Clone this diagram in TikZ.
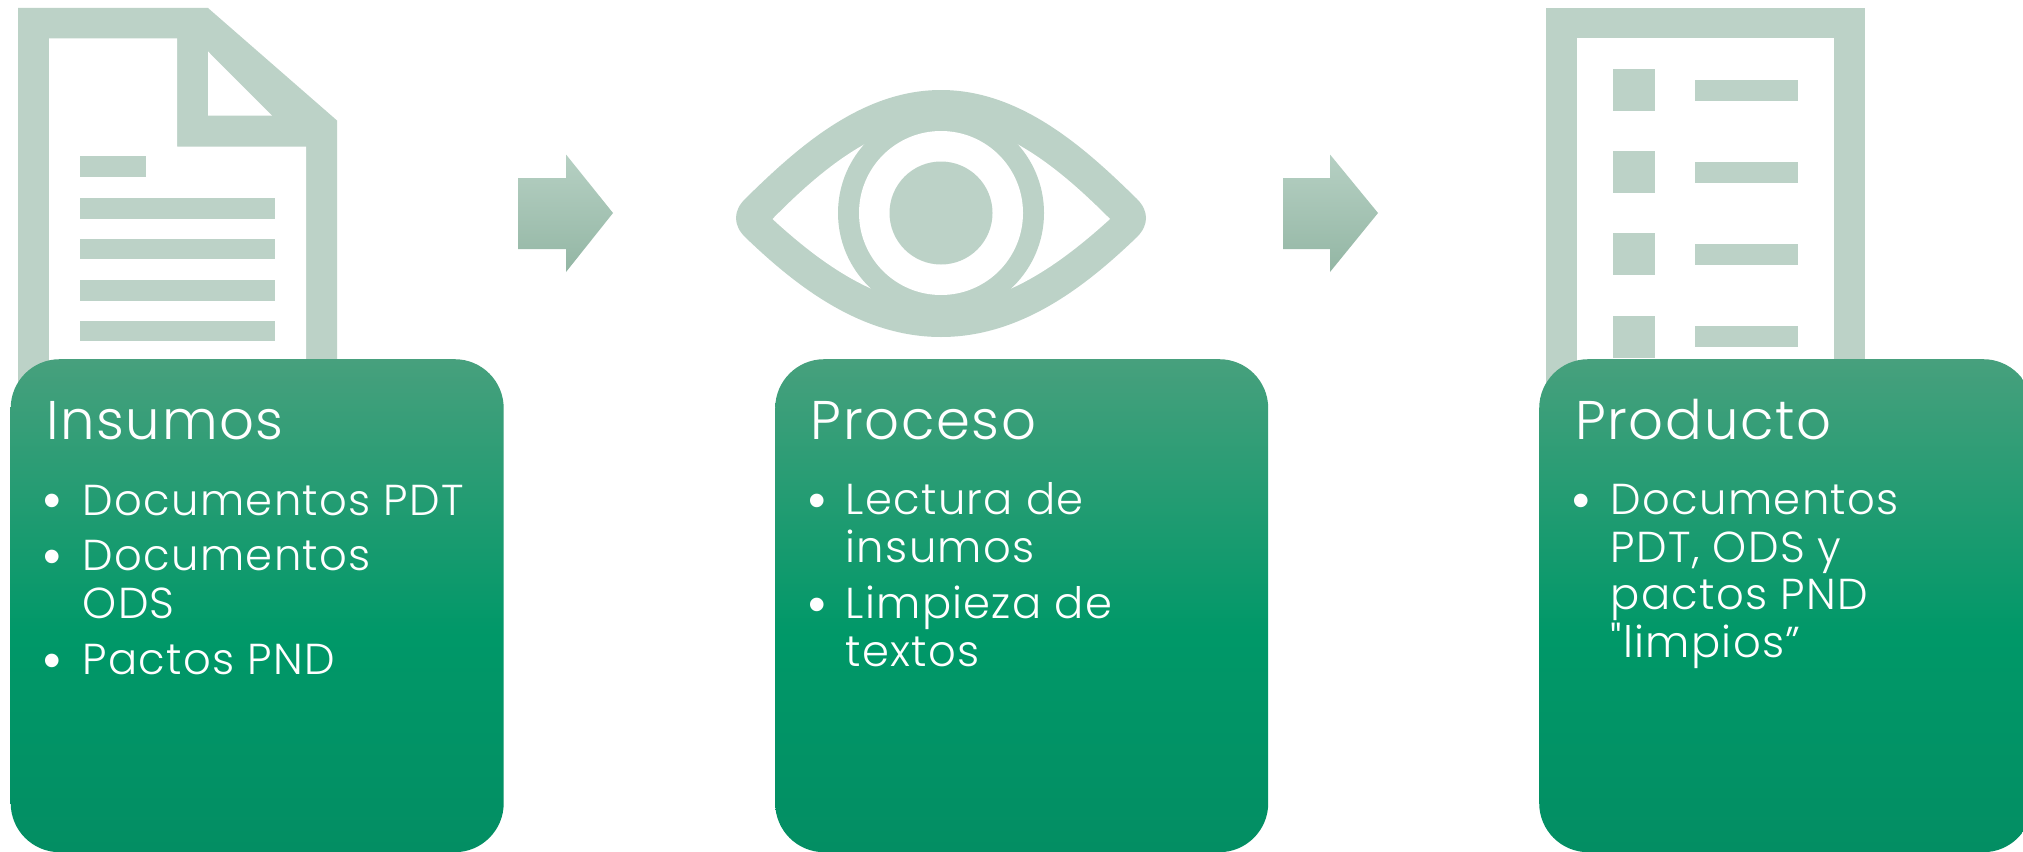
\documentclass[tikz,border=0pt]{standalone}
\usepackage{fontspec}
\newfontfamily\cardfont{Poppins Light}[LetterSpace=3]
\newfontfamily\dotfont{Liberation Sans}
\usetikzlibrary{positioning}

\definecolor{iconcol}{HTML}{BCD2C7}
\definecolor{cardtop}{HTML}{47A07D}
\definecolor{cardmid}{HTML}{009868}
\definecolor{cardbot}{HTML}{038E63}
\definecolor{arrowtop}{HTML}{B6D0C3}
\definecolor{arrowmid}{HTML}{A8C8B7}
\definecolor{arrowbot}{HTML}{93B6A4}
\pgfdeclareverticalshading{cardshade}{100bp}{color(0bp)=(cardbot); color(25bp)=(cardbot); color(47bp)=(cardmid); color(75bp)=(cardtop); color(100bp)=(cardtop)}

\tikzstyle{card} = [shading=cardshade, rounded corners=49pt, minimum width=493pt, minimum height=493pt, anchor=north west, inner sep=0pt]
\tikzstyle{cardtitle} = [anchor=base west, inner sep=0pt, text=white, font=\cardfont\fontsize{54.5}{60}\selectfont]
\tikzstyle{item} = [anchor=base west, inner sep=0pt, text=white, font=\cardfont\fontsize{43.3}{48}\selectfont]
\tikzstyle{itemdot} = [anchor=base west, inner sep=0pt, text=white, font=\dotfont\fontsize{50}{50}\selectfont]
\tikzstyle{stepfill} = [top color=arrowtop, middle color=arrowmid, bottom color=arrowbot]

\begin{document}
\begin{tikzpicture}[x=1pt,y=-1pt]
                \path[fill=white,use as bounding box] (0,0) rectangle (2023,851);
                % draw document icon
                \fill[iconcol] (18,8) -- (208,8) -- (337,120.5) -- (337,400) -- (18,400) -- cycle;
                \fill[white] (49,38.5) -- (177,38.5) -- (177,146.5) -- (306,146.5) -- (306,400) -- (49,400) -- cycle;
                \fill[white] (208,51.5) -- (272,115.6) -- (208,115.6) -- cycle;
                \fill[iconcol] (79.5,156) rectangle (146.4,177.4);
                \fill[iconcol] (79.5,198) rectangle (275,218.7);
                \fill[iconcol] (79.5,238.7) rectangle (275,259.4);
                \fill[iconcol] (79.5,280) rectangle (275,300.6);
                \fill[iconcol] (79.5,320.7) rectangle (275,341.3);
                % draw eye icon
                \fill[iconcol] (941,90) .. controls (860,90) and (795,150) .. (745,199)
                    .. controls (733,211) and (733,225) .. (745,237)
                    .. controls (795,285) and (860,337) .. (941,337)
                    .. controls (1022,337) and (1087,285) .. (1137,237)
                    .. controls (1149,225) and (1149,211) .. (1137,199)
                    .. controls (1087,150) and (1022,90) .. (941,90) -- cycle;
                \fill[white] (772.5,219) .. controls (815,176) and (875,122) .. (941,122)
                    .. controls (1007,122) and (1067,176) .. (1110,219)
                    .. controls (1067,258) and (1007,305) .. (941,305)
                    .. controls (875,305) and (815,258) .. (772.5,219) -- cycle;
                \fill[iconcol] (941,213) circle (103);
                \fill[white] (941,213) circle (82);
                \fill[iconcol] (941,213) circle (51.5);
                % draw list icon
                \fill[iconcol] (1546,8) rectangle (1865,400);
                \fill[white] (1577,38.5) rectangle (1834,400);
                \fill[iconcol] (1613,69) rectangle (1655,111);
                \fill[iconcol] (1613,151) rectangle (1655,193);
                \fill[iconcol] (1613,233) rectangle (1655,275);
                \fill[iconcol] (1613,316) rectangle (1655,358);
                \fill[iconcol] (1695,80) rectangle (1798,101);
                \fill[iconcol] (1695,162) rectangle (1798,183);
                \fill[iconcol] (1695,244) rectangle (1798,265);
                \fill[iconcol] (1695,326) rectangle (1798,347);
                % draw step arrows
                \shade[stepfill] (518,178) -- (566,178) -- (566,154.5) -- (613,213) -- (566,272) -- (566,249) -- (518,249) -- cycle;
                \shade[stepfill] (1283,178) -- (1330,178) -- (1330,154.5) -- (1378,213) -- (1330,272) -- (1330,249) -- (1283,249) -- cycle;
                % draw cards
                \node[card] (insumos) at (10.5,359) {};
                \node[card] (proceso) at (775,359) {};
                \node[card] (producto) at (1539,359) {};
                % first card text
                \node[cardtitle] (insumostitle) at (46,439.5) {Insumos};
                \node[itemdot] (insumosdota) at (43,517.5) {•};
                \node[item] (insumosa) at (82.5,515) {Documentos PDT};
                \node[itemdot] (insumosdotb) at (43,573.5) {•};
                \node[item] (insumosb) at (82.5,570) {Documentos};
                \node[item] (insumosc) at (82.5,618) {ODS};
                \node[itemdot] (insumosdotc) at (43,677.5) {•};
                \node[item] (insumosd) at (82.5,674) {Pactos PND};
                % second card text
                \node[cardtitle] (procesotitle) at (810.5,439.5) {Proceso};
                \node[itemdot] (procesodota) at (808.5,517.5) {•};
                \node[item] (procesoa) at (845.5,514.5) {Lectura de};
                \node[item] (procesob) at (845.5,562.5) {insumos};
                \node[itemdot] (procesodotb) at (808.5,621) {•};
                \node[item] (procesoc) at (845.5,618) {Limpieza de};
                \node[item] (procesod) at (845.5,666) {textos};
                % third card text
                \node[cardtitle] (productotitle) at (1575,439.5) {Producto};
                \node[itemdot] (productodot) at (1572,517.5) {•};
                \node[item] (productoa) at (1610.5,514.5) {Documentos};
                \node[item] (productob) at (1610.5,562) {PDT, ODS y};
                \node[item] (productoc) at (1610.5,609.5) {pactos PND};
                \node[item] (productod) at (1610.5,657.5) {"limpios”};
\end{tikzpicture}
\end{document}
